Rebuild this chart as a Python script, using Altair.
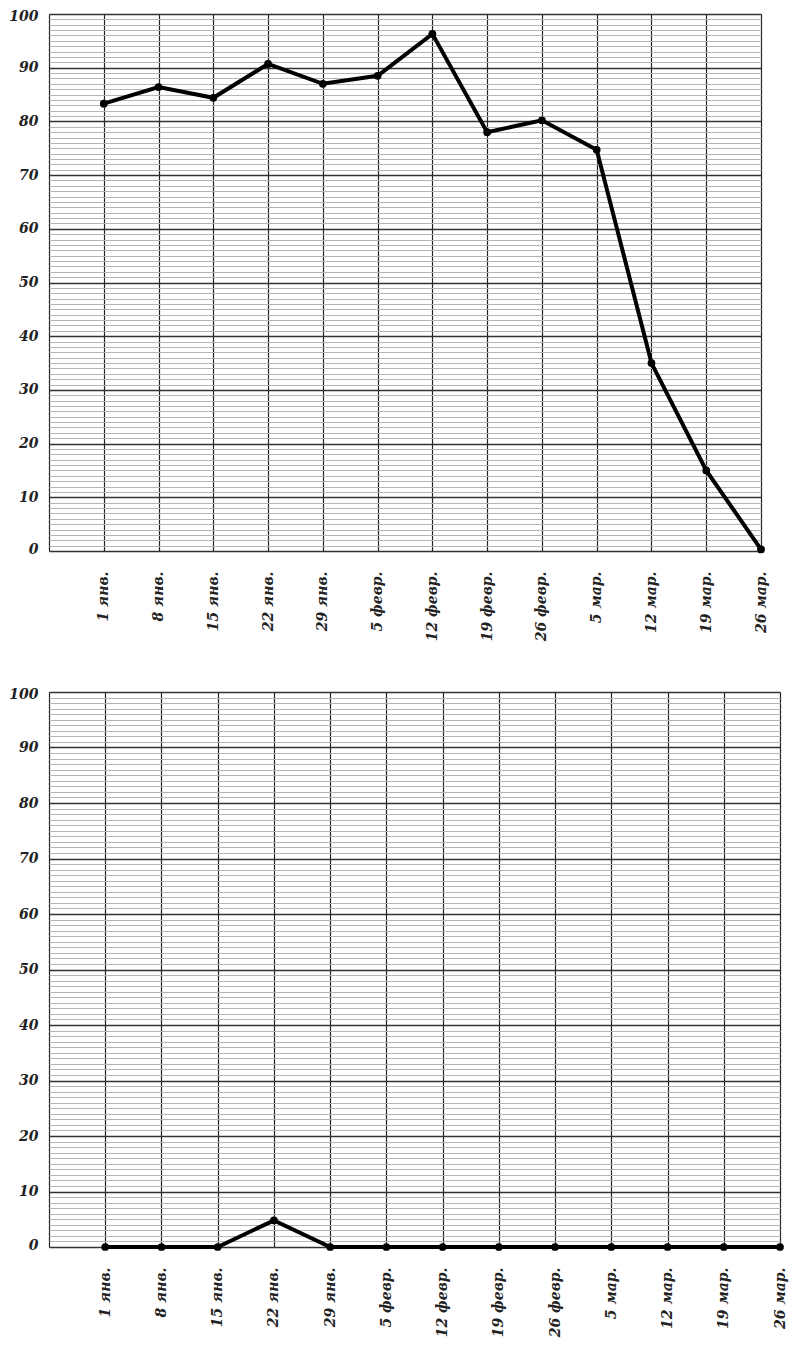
import altair as alt
import pandas as pd

x_labels = ["1 янв.", "8 янв.", "15 янв.", "22 янв.", "29 янв.", "5 февр.", "12 февр.",
            "19 февр.", "26 февр.", "5 мар.", "12 мар.", "19 мар.", "26 мар."]
top_values = [83.3, 86.4, 84.4, 90.7, 87.0, 88.5, 96.3, 78.0, 80.2, 74.7, 35.0, 15.0, 0.3]
bottom_values = [0, 0, 0, 4.8, 0, 0, 0, 0, 0, 0, 0, 0, 0]
y_ticks = list(range(0, 101, 1))
x_ticks = list(range(0, len(x_labels) + 1))

FONT = "DejaVu Serif"
label_js = "[" + ",".join("'" + s + "'" for s in x_labels) + "]"


def panel(values, w, h):
    df = pd.DataFrame({"idx": list(range(1, len(x_labels) + 1)), "label": x_labels, "value": values})
    x = alt.X("idx:Q",
              scale=alt.Scale(domain=[0, len(x_labels)], nice=False, zero=False),
              axis=alt.Axis(values=x_ticks, title=None, ticks=False, domain=False,
                            labelExpr="datum.value >= 1 ? " + label_js + "[datum.value - 1] : ''",
                            labelAngle=270, labelPadding=20, labelFont=FONT, labelFontSize=14,
                            labelFontStyle="italic", labelFontWeight="bold", labelColor="#222",
                            grid=True, gridColor="#222", gridWidth=1.2, gridOpacity=1,
                            labelOverlap=False))
    y = alt.Y("value:Q",
              scale=alt.Scale(domain=[0, 100], nice=False),
              axis=alt.Axis(values=y_ticks, title=None, ticks=False, domain=False,
                            labelExpr="datum.value % 10 === 0 ? datum.label : ''",
                            labelPadding=11, labelFont=FONT, labelFontSize=14,
                            labelFontStyle="italic", labelFontWeight="bold", labelColor="#222",
                            labelFlush=True, labelFlushOffset=5,
                            grid=True,
                            gridColor={"condition": {"test": "datum.value % 10 === 0", "value": "#333"}, "value": "#b5b5b5"},
                            gridWidth={"condition": {"test": "datum.value % 10 === 0", "value": 1.3}, "value": 1},
                            gridOpacity=1, labelOverlap=False))
    line = alt.Chart(df).mark_line(color="black", strokeWidth=4, clip=False).encode(x=x, y=y)
    pts = alt.Chart(df).mark_circle(color="black", size=60, opacity=1, clip=False).encode(x=x, y=y)
    return alt.layer(line, pts).properties(width=w, height=h)


chart = alt.vconcat(
    panel(top_values, 712, 537),
    panel(bottom_values, 731, 555),
    spacing=44,
).properties(padding={"left": 0, "top": 0, "right": 0, "bottom": 0}
).configure_view(stroke=None).configure(background="white")

chart.save("out.html", embed_options={"renderer": "svg", "actions": False})
